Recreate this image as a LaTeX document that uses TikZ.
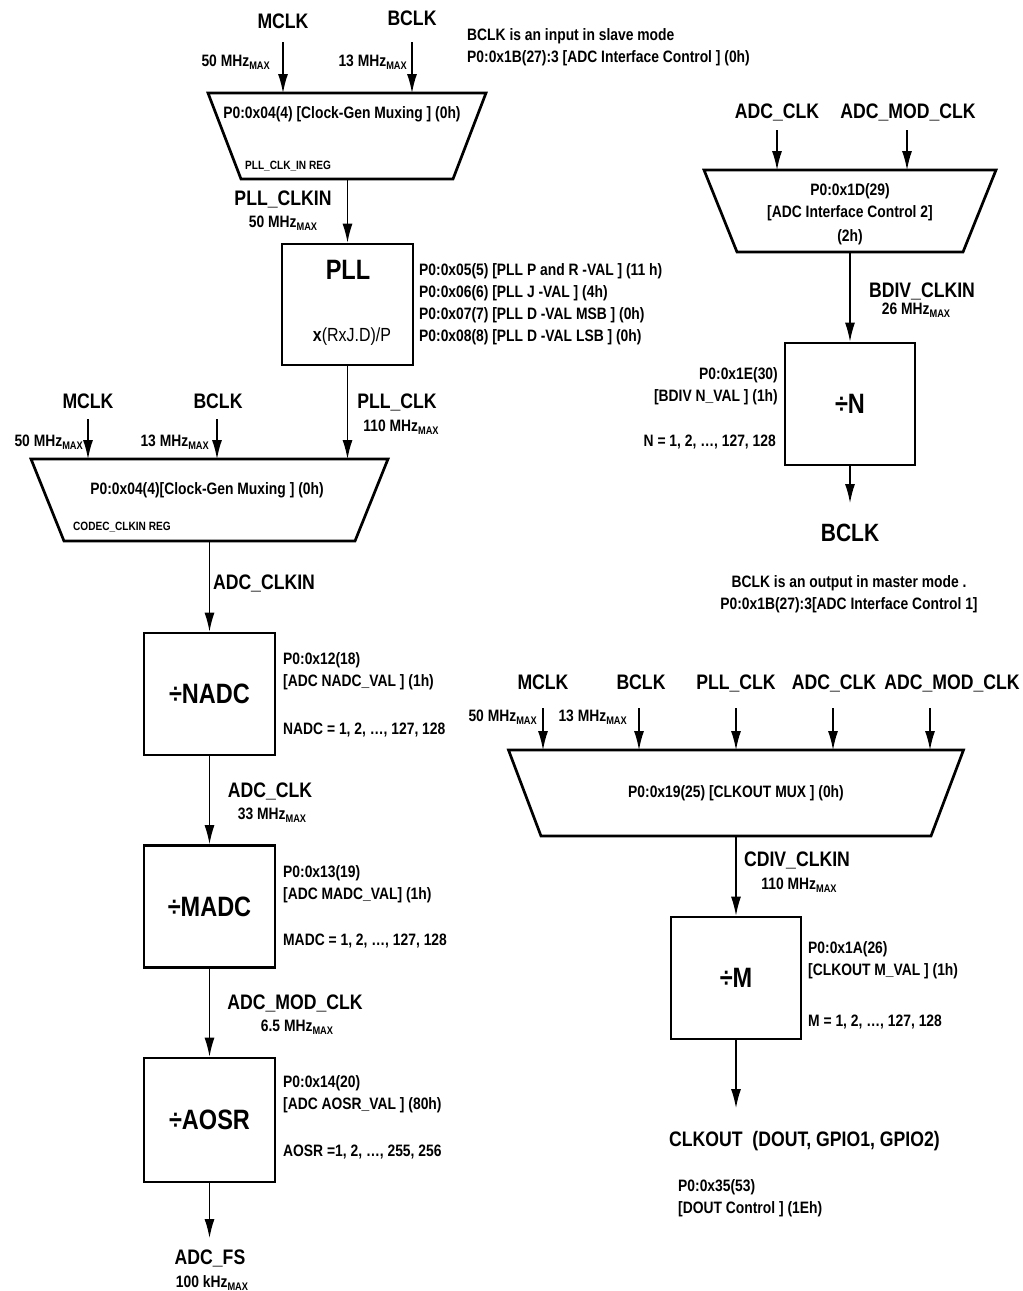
\documentclass[tikz,border=0pt]{standalone}
\usepackage{fontspec}
\setmainfont{Liberation Sans}[FakeStretch=0.84]
\usetikzlibrary{arrows.meta}
\newcommand\mx{\raisebox{-3pt}{\fontsize{11}{11}\selectfont MAX}}
\begin{document}
\begin{tikzpicture}[x=1pt,y=-1pt,
 arr/.style={-{Latex[length=19pt,width=10pt]}, line width=1.3pt},
 blk/.style={draw, line width=2.7pt, minimum width=131pt, minimum height=122pt, inner sep=0pt, font=\fontsize{28}{28}\selectfont\bfseries},
 muxl/.style={draw, line width=2.7pt, line join=miter},
 big/.style={font=\fontsize{21}{21}\selectfont\bfseries, inner sep=0pt, text height=15pt, text depth=0pt},
 freq/.style={font=\fontsize{16.5}{16.5}\selectfont\bfseries, inner sep=0pt},
 note/.style={font=\fontsize{16.5}{22}\selectfont\bfseries, inner sep=0pt, align=left, anchor=west},
 reg/.style={font=\fontsize{12}{12}\selectfont\bfseries, inner sep=0pt, anchor=west},
]
\fill[white] (0,0) rectangle (1023,1291);
\useasboundingbox (0,0) rectangle (1023,1291);

% ---------- Mux 1 ----------
\draw[muxl] (208,93) -- (486,93) -- (453,179) -- (241,179) -- cycle;
\node[note, anchor=center, align=center] (mux1t) at (342,114) {P0:0x04(4) [Clock-Gen Muxing ] (0h)};
\node[reg] (mux1r) at (245,166) {PLL\_CLK\_IN REG};
\coordinate (m1i1) at (283,93); \coordinate (m1i2) at (412,93); \coordinate (m1o) at (347.5,179);
\node[big] (mclk1) at (283,21) {MCLK};
\node[big] (bclk1) at (412,18) {BCLK};
\coordinate (m1s1) at (283,42); \coordinate (m1s2) at (412,42);
\draw[arr] (m1s1) -- (m1i1);
\draw[arr] (m1s2) -- (m1i2);
\node[freq, anchor=east] (f1a) at (270,62) {50 MHz\mx};
\node[freq, anchor=east] (f1b) at (407,62) {13 MHz\mx};
\node[note] (slave) at (467,47.5) {BCLK is an input in slave mode\\P0:0x1B(27):3 [ADC Interface Control ] (0h)};

% ---------- PLL ----------
\node[blk, minimum height=121pt] (pll) at (347.5,304.5) {};
\node[font=\fontsize{28}{28}\selectfont\bfseries, inner sep=0pt] (pllt) at (348,270) {PLL};
\node[font=\fontsize{19}{19}\selectfont, inner sep=0pt] (pllf) at (352,337) {\textbf{x}(RxJ.D)/P};
\node[note] (pllr) at (419,304.5) {P0:0x05(5) [PLL P and R -VAL ] (11 h)\\P0:0x06(6) [PLL J -VAL ] (4h)\\P0:0x07(7) [PLL D -VAL MSB ] (0h)\\P0:0x08(8) [PLL D -VAL LSB ] (0h)};
\draw[arr] (m1o) -- (pll.north);
\node[big] (pllclkin) at (283,198) {PLL\_CLKIN};
\node[freq] (f2) at (283,223) {50 MHz\mx};

% ---------- Mux 2 ----------
\draw[muxl] (31,459) -- (388,459) -- (355,541) -- (64,541) -- cycle;
\coordinate (m2i1) at (88,459); \coordinate (m2i2) at (217,459); \coordinate (m2i3) at (347.5,459); \coordinate (m2o) at (209.5,541);
\draw[arr] (pll.south) -- (m2i3);
\node[big] (pllclk) at (397,401) {PLL\_CLK};
\node[freq] (f3) at (401,427) {110 MHz\mx};
\node[big] (mclk2) at (88,401) {MCLK};
\node[big] (bclk2) at (218,401) {BCLK};
\coordinate (m2s1) at (88,419); \coordinate (m2s2) at (217,419);
\draw[arr] (m2s1) -- (m2i1);
\draw[arr] (m2s2) -- (m2i2);
\node[freq, anchor=east] (f4a) at (83,442) {50 MHz\mx};
\node[freq, anchor=east] (f4b) at (209,442) {13 MHz\mx};
\node[note, anchor=center, align=center] (mux2t) at (207,490) {P0:0x04(4)[Clock-Gen Muxing ] (0h)};
\node[reg] (mux2r) at (73,527) {CODEC\_CLKIN REG};

% ---------- Left dividers ----------
\node[blk] (nadc) at (209.5,694) {÷NADC};
\node[blk] (madc) at (209.5,906.5) {÷MADC};
\node[blk, minimum height=124pt] (aosr) at (209.5,1120) {÷AOSR};
\coordinate (fsin) at (209.5,1238);
\draw[arr] (m2o) -- (nadc.north);
\draw[arr] (nadc.south) -- (madc.north);
\draw[arr] (madc.south) -- (aosr.north);
\draw[arr] (aosr.south) -- (fsin);
\node[big] (adcclkin) at (264,582) {ADC\_CLKIN};
\node[big] (adcclk) at (270,790) {ADC\_CLK};
\node[freq] (f5) at (272,815) {33 MHz\mx};
\node[big] (adcmod) at (295,1002) {ADC\_MOD\_CLK};
\node[freq] (f6) at (297,1027) {6.5 MHz\mx};
\node[big] (adcfs) at (210,1257) {ADC\_FS};
\node[freq] (f7) at (212,1283) {100 kHz\mx};
\node[note] (n1) at (283,671) {P0:0x12(18)\\{}[ADC NADC\_VAL ] (1h)};
\node[note] (n2) at (283,730) {NADC = 1, 2, …, 127, 128};
\node[note] (n3) at (283,884) {P0:0x13(19)\\{}[ADC MADC\_VAL] (1h)};
\node[note] (n4) at (283,941) {MADC = 1, 2, …, 127, 128};
\node[note] (n5) at (283,1094.5) {P0:0x14(20)\\{}[ADC AOSR\_VAL ] (80h)};
\node[note] (n6) at (283,1152) {AOSR =1, 2, …, 255, 256};

% ---------- Mux 3 / BCLK divider ----------
\draw[muxl] (704,170) -- (996,170) -- (963,252) -- (737,252) -- cycle;
\coordinate (m3i1) at (777,170); \coordinate (m3i2) at (907,170); \coordinate (m3o) at (850,252);
\node[big] (adcclk3) at (777,111) {ADC\_CLK};
\node[big] (adcmod3) at (908,111) {ADC\_MOD\_CLK};
\coordinate (m3s1) at (777,130); \coordinate (m3s2) at (907,130);
\draw[arr] (m3s1) -- (m3i1);
\draw[arr] (m3s2) -- (m3i2);
\node[note, anchor=center, align=center] (mux3t) at (850,202) {P0:0x1D(29)\\{}[ADC Interface Control 2]};
\node[note, anchor=center] (mux3h) at (850,237) {(2h)};
\node[blk, minimum width=130pt] (ndiv) at (850,404) {÷N};
\draw[arr] (m3o) -- (ndiv.north);
\node[big] (bdiv) at (922,290) {BDIV\_CLKIN};
\node[freq] (f8) at (916,310) {26 MHz\mx};
\node[note, anchor=east, align=right] (n7) at (778,386.5) {P0:0x1E(30)\\{}[BDIV N\_VAL ] (1h)};
\node[note, anchor=east] (n8) at (776,442) {N = 1, 2, …, 127, 128};
\coordinate (bclkin) at (850,503);
\draw[arr] (ndiv.south) -- (bclkin);
\node[font=\fontsize{25}{25}\selectfont\bfseries, inner sep=0pt] (bclko) at (850,533) {BCLK};
\node[note, anchor=center, align=center] (master) at (849,594) {BCLK is an output in master mode .\\P0:0x1B(27):3[ADC Interface Control 1]};

% ---------- Mux 4 / CLKOUT ----------
\draw[muxl] (508.5,750) -- (963.5,750) -- (931,836) -- (541,836) -- cycle;
\coordinate (m4i1) at (543,750); \coordinate (m4i2) at (639,750); \coordinate (m4i3) at (736,750);
\coordinate (m4i4) at (833,750); \coordinate (m4i5) at (930,750); \coordinate (m4o) at (736,836);
\coordinate (m4s1) at (543,708); \coordinate (m4s2) at (639,708); \coordinate (m4s3) at (736,708);
\coordinate (m4s4) at (833,708); \coordinate (m4s5) at (930,708);
\foreach \i in {1,...,5} {\draw[arr] (m4s\i) -- (m4i\i);}
\node[big] (mclk4) at (543,682) {MCLK};
\node[big] (bclk4) at (641,682) {BCLK};
\node[big] (pllclk4) at (736,682) {PLL\_CLK};
\node[big] (adcclk4) at (834,682) {ADC\_CLK};
\node[big] (adcmod4) at (952,682) {ADC\_MOD\_CLK};
\node[freq, anchor=east] (f9a) at (537,717) {50 MHz\mx};
\node[freq, anchor=east] (f9b) at (627,717) {13 MHz\mx};
\node[note, anchor=center] (mux4t) at (736,793) {P0:0x19(25) [CLKOUT MUX ] (0h)};
\node[blk, minimum width=130pt] (mdiv) at (736,978) {÷M};
\draw[arr] (m4o) -- (mdiv.north);
\node[big] (cdiv) at (797,859) {CDIV\_CLKIN};
\node[freq] (f10) at (799,885) {110 MHz\mx};
\node[note] (n9) at (808,960.5) {P0:0x1A(26)\\{}[CLKOUT M\_VAL ] (1h)};
\node[note] (n10) at (808,1022) {M = 1, 2, …, 127, 128};
\coordinate (clkin) at (736,1108);
\draw[arr] (mdiv.south) -- (clkin);
\node[big, anchor=west] (clkout) at (669,1139) {CLKOUT\ \ (DOUT, GPIO1, GPIO2)};
\node[note] (n11) at (678,1198) {P0:0x35(53)\\{}[DOUT Control ] (1Eh)};
\end{tikzpicture}
\end{document}
